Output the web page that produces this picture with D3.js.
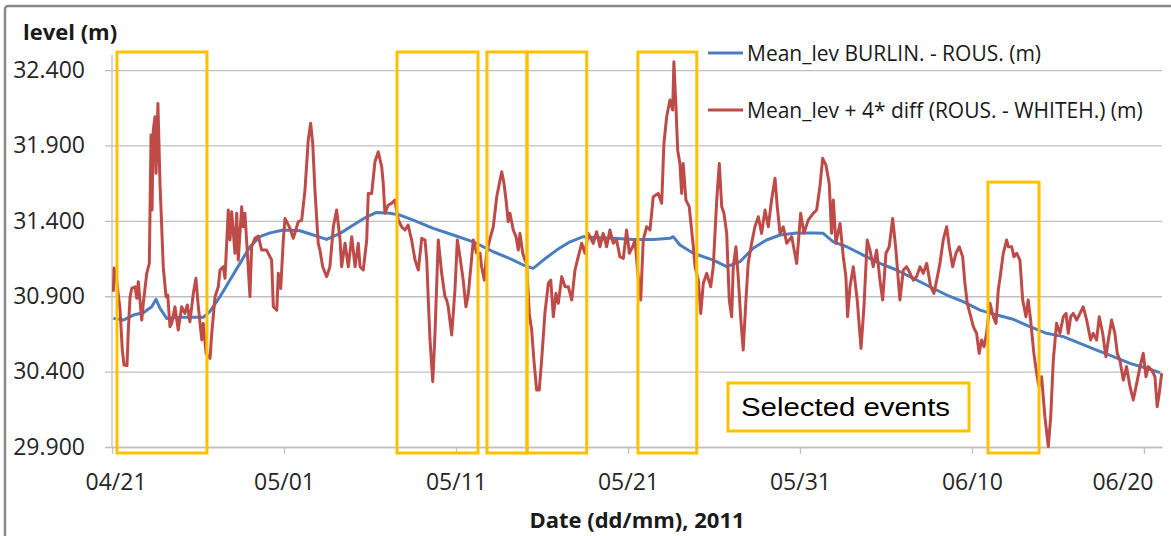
<!DOCTYPE html>
<meta charset="utf-8">
<head>
  <title>Mean level with selected events</title>
  <script src="https://d3js.org/d3.v7.min.js"></script>
  <style>
    body { margin: 0; background: #fff; }
  </style>
</head>
<body>
<div id="my_dataviz"></div>

<script>

// time is given in days after 04/21/2011 00:00
var blueDays = [0.08, 0.66, 1.24, 1.82, 2.31, 2.56, 2.79, 3.18, 3.95, 4.73, 5.31, 5.70, 6.28, 6.86, 7.44, 8.02,
  8.60, 9.19, 9.96, 10.93, 11.70, 12.48, 13.26, 14.03, 14.81, 15.39, 16.16, 16.74, 17.52, 18.68, 19.84, 21.01,
  22.17, 23.33, 23.91, 24.49, 25.08, 25.85, 26.63, 27.40, 28.18, 29.15, 30.31, 31.47, 32.44, 32.63, 33.02, 33.80,
  34.96, 35.74, 36.51, 37.28, 38.06, 38.84, 39.81, 40.77, 41.35, 41.94, 42.72, 43.68, 44.65, 45.62, 46.59, 47.56,
  48.53, 49.49, 50.47, 51.44, 52.40, 53.37, 54.34, 55.31, 56.28, 57.25, 58.22, 59.19, 60.16, 60.93];
var blueVals = [30.753, 30.742, 30.775, 30.79, 30.83, 30.88, 30.82, 30.753, 30.76, 30.76, 30.76, 30.80, 30.897, 31.007, 31.118, 31.228,
  31.295, 31.32, 31.339, 31.334, 31.306, 31.277, 31.317, 31.372, 31.427, 31.456, 31.45, 31.438, 31.405, 31.35, 31.306, 31.261,
  31.195, 31.14, 31.107, 31.085, 31.14, 31.206, 31.261, 31.295, 31.29, 31.284, 31.277, 31.277, 31.284, 31.295, 31.24, 31.185,
  31.14, 31.096, 31.129, 31.218, 31.273, 31.306, 31.32, 31.32, 31.317, 31.261, 31.228, 31.173, 31.118, 31.074, 31.019, 30.963,
  30.908, 30.864, 30.808, 30.775, 30.747, 30.698, 30.654, 30.632, 30.588, 30.543, 30.499, 30.455, 30.422, 30.393];

var redDays = [0.08, 0.12, 0.27, 0.47, 0.60, 0.70, 0.87, 0.95, 1.05, 1.15, 1.34, 1.44, 1.53, 1.73, 1.82, 2.02,
  2.17, 2.27, 2.33, 2.40, 2.50, 2.56, 2.67, 2.79, 2.89, 2.98, 3.14, 3.24, 3.37, 3.47, 3.66, 3.85,
  4.05, 4.24, 4.38, 4.53, 4.73, 4.88, 5.02, 5.22, 5.31, 5.47, 5.70, 5.80, 5.99, 6.18, 6.28, 6.47,
  6.57, 6.76, 6.86, 6.96, 7.15, 7.25, 7.34, 7.54, 7.63, 7.73, 7.92, 8.02, 8.12, 8.31, 8.51, 8.70,
  8.99, 9.28, 9.38, 9.58, 9.67, 9.81, 9.96, 10.06, 10.35, 10.54, 10.83, 11.03, 11.22, 11.41, 11.55, 11.67,
  11.80, 11.99, 12.09, 12.25, 12.48, 12.67, 12.87, 13.06, 13.26, 13.35, 13.55, 13.74, 13.94, 14.13, 14.32, 14.42,
  14.61, 14.81, 14.90, 15.10, 15.29, 15.48, 15.68, 15.77, 15.87, 16.06, 16.26, 16.45, 16.51, 16.65, 16.84, 17.03,
  17.22, 17.42, 17.62, 17.81, 18.01, 18.20, 18.30, 18.39, 18.49, 18.65, 18.78, 18.97, 19.17, 19.36, 19.46, 19.55,
  19.75, 19.94, 20.08, 20.23, 20.42, 20.58, 20.72, 21.01, 21.20, 21.40, 21.49, 21.65, 21.78, 21.98, 22.17, 22.37,
  22.56, 22.66, 22.79, 22.91, 23.04, 23.14, 23.33, 23.49, 23.62, 23.72, 23.88, 24.01, 24.11, 24.26, 24.40, 24.53,
  24.69, 24.84, 24.98, 25.17, 25.37, 25.51, 25.66, 25.81, 25.95, 26.15, 26.34, 26.53, 26.73, 26.92, 27.11, 27.31,
  27.50, 27.69, 27.98, 28.18, 28.37, 28.56, 28.76, 28.95, 29.15, 29.34, 29.53, 29.73, 29.92, 30.08, 30.27, 30.41,
  30.54, 30.74, 30.89, 31.09, 31.28, 31.47, 31.76, 31.96, 32.09, 32.25, 32.44, 32.60, 32.67, 32.79, 32.89, 33.02,
  33.12, 33.21, 33.37, 33.56, 33.80, 33.90, 34.09, 34.23, 34.38, 34.58, 34.81, 34.96, 35.16, 35.31, 35.45, 35.58,
  35.74, 35.89, 36.03, 36.12, 36.28, 36.41, 36.55, 36.70, 36.86, 36.99, 37.19, 37.38, 37.58, 37.77, 37.97, 38.16,
  38.35, 38.55, 38.68, 38.84, 39.03, 39.23, 39.52, 39.81, 40.04, 40.23, 40.48, 40.77, 40.97, 41.16, 41.32, 41.51,
  41.70, 41.84, 41.94, 42.09, 42.33, 42.52, 42.67, 42.77, 42.91, 43.10, 43.33, 43.55, 43.72, 43.91, 44.07, 44.26,
  44.46, 44.65, 44.81, 45.00, 45.19, 45.39, 45.58, 45.81, 46.01, 46.20, 46.40, 46.59, 46.78, 46.98, 47.17, 47.37,
  47.60, 47.79, 47.95, 48.14, 48.33, 48.53, 48.68, 48.88, 49.07, 49.26, 49.46, 49.59, 49.73, 49.88, 50.08, 50.27,
  50.42, 50.56, 50.70, 50.85, 51.05, 51.24, 51.40, 51.53, 51.67, 51.82, 52.02, 52.11, 52.31, 52.44, 52.60, 52.79,
  52.95, 53.14, 53.27, 53.41, 53.60, 53.76, 53.90, 54.05, 54.24, 54.44, 54.58, 54.73, 54.92, 55.12, 55.31, 55.47,
  55.60, 55.74, 55.89, 56.09, 56.28, 56.47, 56.67, 56.90, 57.05, 57.25, 57.40, 57.60, 57.79, 57.93, 58.12, 58.31,
  58.45, 58.60, 58.80, 58.99, 59.19, 59.38, 59.58, 59.77, 59.96, 60.12, 60.25, 60.45, 60.64, 60.77, 60.89, 61.03];
var redVals = [30.93, 31.087, 31.007, 30.808, 30.543, 30.444, 30.44, 30.676, 30.897, 30.952, 30.963, 30.886, 30.996, 30.742, 30.853, 31.052,
  31.118, 31.969, 31.472, 32.002, 32.09, 31.715, 32.179, 31.649, 31.361, 31.096, 30.897, 30.908, 30.698, 30.72, 30.83, 30.676,
  30.83, 30.786, 30.842, 30.731, 30.919, 31.019, 30.83, 30.61, 30.72, 30.521, 30.488, 30.654, 30.897, 30.963, 31.074, 31.096,
  31.019, 31.472, 31.273, 31.46, 31.185, 31.45, 31.14, 31.494, 31.361, 31.45, 31.096, 30.897, 31.228, 31.284, 31.299, 31.206,
  31.206, 31.14, 30.83, 30.808, 31.052, 30.952, 31.273, 31.416, 31.35, 31.284, 31.394, 31.405, 31.604, 31.936, 32.047, 31.914,
  31.604, 31.251, 31.206, 31.096, 31.03, 31.096, 31.361, 31.472, 31.273, 31.096, 31.251, 31.096, 31.295, 31.096, 31.251, 31.096,
  31.074, 31.273, 31.582, 31.582, 31.792, 31.858, 31.759, 31.649, 31.45, 31.505, 31.516, 31.538, 31.494, 31.405, 31.361, 31.339,
  31.372, 31.273, 31.14, 31.074, 31.284, 31.273, 31.14, 30.875, 30.61, 30.333, 30.654, 31.273, 31.052, 30.897, 30.875, 30.83,
  30.643, 30.941, 31.273, 31.162, 31.007, 30.83, 30.919, 31.273, 31.185, 31.185, 31.096, 31.007, 31.185, 31.284, 31.361, 31.56,
  31.67, 31.726, 31.649, 31.538, 31.394, 31.45, 31.339, 31.295, 31.206, 31.317, 31.185, 31.14, 31.118, 30.786, 30.676, 30.477,
  30.278, 30.278, 30.477, 30.786, 30.986, 31.007, 30.764, 30.919, 30.853, 31.03, 30.963, 30.963, 30.875, 31.074, 31.162, 31.251,
  31.185, 31.317, 31.251, 31.328, 31.228, 31.317, 31.228, 31.339, 31.251, 31.273, 31.162, 31.151, 31.339, 31.185, 31.228, 31.273,
  31.096, 30.875, 31.273, 31.361, 31.339, 31.56, 31.582, 31.516, 31.914, 32.09, 32.201, 32.135, 32.455, 32.157, 31.869, 31.781,
  31.582, 31.781, 31.538, 31.494, 31.228, 31.096, 31.007, 30.786, 30.986, 31.052, 30.963, 31.096, 31.538, 31.781, 31.494, 31.45,
  31.317, 30.875, 30.764, 31.096, 31.228, 31.03, 30.764, 30.543, 30.875, 31.118, 31.251, 31.361, 31.427, 31.317, 31.472, 31.361,
  31.538, 31.682, 31.494, 31.317, 31.361, 31.251, 31.295, 31.118, 31.45, 31.317, 31.405, 31.45, 31.472, 31.626, 31.815, 31.77,
  31.649, 31.317, 31.538, 31.251, 31.383, 31.162, 31.03, 30.764, 30.963, 31.096, 30.875, 30.554, 30.83, 31.273, 31.206, 31.096,
  31.206, 31.007, 30.875, 31.185, 31.228, 31.416, 31.206, 30.875, 31.074, 31.096, 31.052, 31.007, 31.03, 31.096, 31.052, 31.118,
  30.963, 30.919, 31.007, 31.118, 31.273, 31.361, 31.228, 31.096, 31.185, 31.228, 31.162, 30.986, 30.853, 30.786, 30.698, 30.654,
  30.521, 30.61, 30.565, 30.654, 30.853, 30.764, 30.72, 30.941, 31.052, 31.185, 31.273, 31.228, 31.228, 31.162, 31.185, 31.14,
  30.875, 30.764, 30.875, 30.742, 30.521, 30.389, 30.30, 30.366, 30.101, 29.902, 30.101, 30.477, 30.72, 30.654, 30.764, 30.786,
  30.654, 30.764, 30.786, 30.742, 30.786, 30.83, 30.742, 30.61, 30.654, 30.61, 30.764, 30.654, 30.499, 30.61, 30.742, 30.654,
  30.521, 30.477, 30.344, 30.433, 30.30, 30.212, 30.322, 30.433, 30.521, 30.366, 30.433, 30.411, 30.366, 30.167, 30.256, 30.389];

var xTickDays = [0, 10, 20, 30, 40, 50, 60];
var yTicks = [29.9, 30.4, 30.9, 31.4, 31.9, 32.4];

// selected events (start, end in days; top level in m)
var eventStart = [0.29, 16.57, 21.80, 24.13, 30.58, 50.93];
var eventEnd   = [5.52, 21.28, 24.13, 27.60, 34.00, 53.90];
var eventTop   = [32.52, 32.52, 32.52, 32.52, 32.52, 31.657];
var eventBottom = 29.86;

var seriesNames = ["Mean_lev BURLIN. - ROUS. (m)", "Mean_lev + 4* diff (ROUS. - WHITEH.) (m)"];
var seriesColors = ["#4a7ebf", "#be4b48"];

var t0 = new Date(2011, 3, 21);
function dayToDate(d) { return new Date(+t0 + d * 864e5); }

var W = 1171, H = 536;
var plotLeft = 112, plotRight = 1162, plotTop = 55, plotBottom = 447;

var svg = d3.select("#my_dataviz")
  .append("svg")
  .attr("width", W)
  .attr("height", H)
  .style("display", "block");

// outer frame of the chart
svg.append("rect")
  .attr("x", 5).attr("y", 6)
  .attr("width", 1200).attr("height", 600)
  .attr("rx", 3)
  .style("fill", "#fff")
  .style("stroke", "#8a8a8a")
  .style("stroke-width", 2.5);

var x = d3.scaleTime()
  .domain([t0, dayToDate(61.05)])
  .range([plotLeft, plotRight]);

var y = d3.scaleLinear()
  .domain([29.9, 32.5])
  .range([plotBottom, plotTop]);

// Y axis with grid lines
var yAxis = svg.append("g")
  .attr("transform", "translate(" + (plotLeft - 7) + ",0)")
  .call(d3.axisLeft(y).tickValues(yTicks).tickFormat(d3.format(".3f"))
    .tickSizeInner(-(plotRight - plotLeft + 7)).tickSizeOuter(0).tickPadding(20));
yAxis.select(".domain").remove();
yAxis.selectAll(".tick line").style("stroke", "#c0c0c0").style("stroke-width", 1.3);
yAxis.selectAll(".tick text")
  .style("font-family", "'Open Sans', sans-serif")
  .style("font-size", "23px")
  .style("fill", "#262626");

// vertical axis line
svg.append("line")
  .attr("x1", plotLeft).attr("x2", plotLeft)
  .attr("y1", plotTop).attr("y2", plotBottom)
  .style("stroke", "#c0c0c0").style("stroke-width", 1.3);

// X axis
var xAxis = svg.append("g")
  .attr("transform", "translate(0," + plotBottom + ")")
  .call(d3.axisBottom(x).tickValues(xTickDays.map(dayToDate))
    .tickFormat(d3.timeFormat("%m/%d")).tickSizeInner(7).tickSizeOuter(0).tickPadding(20));
xAxis.select(".domain").style("stroke", "#c0c0c0").style("stroke-width", 1.3);
xAxis.selectAll(".tick line").style("stroke", "#c0c0c0").style("stroke-width", 1.3);
xAxis.selectAll(".tick text")
  .style("font-family", "'Open Sans', sans-serif")
  .style("font-size", "23px")
  .style("fill", "#262626");

// keep edge labels inside the chart, like the spreadsheet does
xAxis.selectAll(".tick").each(function(d) {
  var t = d3.select(this).select("text");
  var bb = t.node().getBBox();
  var cx = x(d);
  var shift = 0;
  if (cx + bb.x < 85) shift = 85 - (cx + bb.x);
  if (cx + bb.x + bb.width > 1153) shift = 1153 - (cx + bb.x + bb.width);
  t.attr("x", shift);
});

// lines
var line = d3.line()
  .x(function(d) { return x(dayToDate(d[0])); })
  .y(function(d) { return y(d[1]); });

var blueData = blueDays.map(function(d, i) { return [d, blueVals[i]]; });
var redData = redDays.map(function(d, i) { return [d, redVals[i]]; });

svg.append("path")
  .datum(blueData)
  .attr("d", line)
  .style("fill", "none")
  .style("stroke", seriesColors[0])
  .style("stroke-width", 3)
  .style("stroke-linejoin", "round");

svg.append("path")
  .datum(redData)
  .attr("d", line)
  .style("fill", "none")
  .style("stroke", seriesColors[1])
  .style("stroke-width", 3)
  .style("stroke-linejoin", "round");

// selected event boxes
svg.append("g")
  .selectAll("rect")
  .data(eventStart)
  .enter()
  .append("rect")
  .attr("x", function(d) { return x(dayToDate(d)); })
  .attr("y", function(d, i) { return y(eventTop[i]); })
  .attr("width", function(d, i) { return x(dayToDate(eventEnd[i])) - x(dayToDate(d)); })
  .attr("height", function(d, i) { return y(eventBottom) - y(eventTop[i]); })
  .style("fill", "none")
  .style("stroke", "#ffc000")
  .style("stroke-width", 3);

// legend
var legend = svg.append("g");
seriesNames.forEach(function(name, i) {
  var ly = 53 + i * 57;
  legend.append("line")
    .attr("x1", 708).attr("x2", 743)
    .attr("y1", ly).attr("y2", ly)
    .style("stroke", seriesColors[i])
    .style("stroke-width", 3);
  legend.append("text")
    .attr("x", 747).attr("y", ly)
    .attr("dy", "0.36em")
    .style("font-family", "'Open Sans', sans-serif")
    .style("font-size", "21px")
    .style("fill", "#1a1a1a")
    .text(name);
});

// "Selected events" note
svg.append("rect")
  .attr("x", 728).attr("y", 383)
  .attr("width", 241).attr("height", 48)
  .style("fill", "#fff")
  .style("stroke", "#ffc000")
  .style("stroke-width", 3);
svg.append("text")
  .attr("x", 741).attr("y", 416)
  .attr("textLength", 209)
  .attr("lengthAdjust", "spacingAndGlyphs")
  .style("font-family", "'Liberation Sans', Arial, sans-serif")
  .style("font-size", "26px")
  .style("fill", "#000")
  .text("Selected events");

// axis titles
svg.append("text")
  .attr("x", 23).attr("y", 40)
  .style("font-family", "'Open Sans', sans-serif")
  .style("font-weight", "bold")
  .style("font-size", "22px")
  .style("fill", "#1a1a1a")
  .text("level (m)");

svg.append("text")
  .attr("x", (plotLeft + plotRight) / 2).attr("y", 528)
  .style("text-anchor", "middle")
  .style("font-family", "'Open Sans', sans-serif")
  .style("font-weight", "bold")
  .style("font-size", "22px")
  .style("fill", "#1a1a1a")
  .text("Date (dd/mm), 2011");

</script>
</body>
